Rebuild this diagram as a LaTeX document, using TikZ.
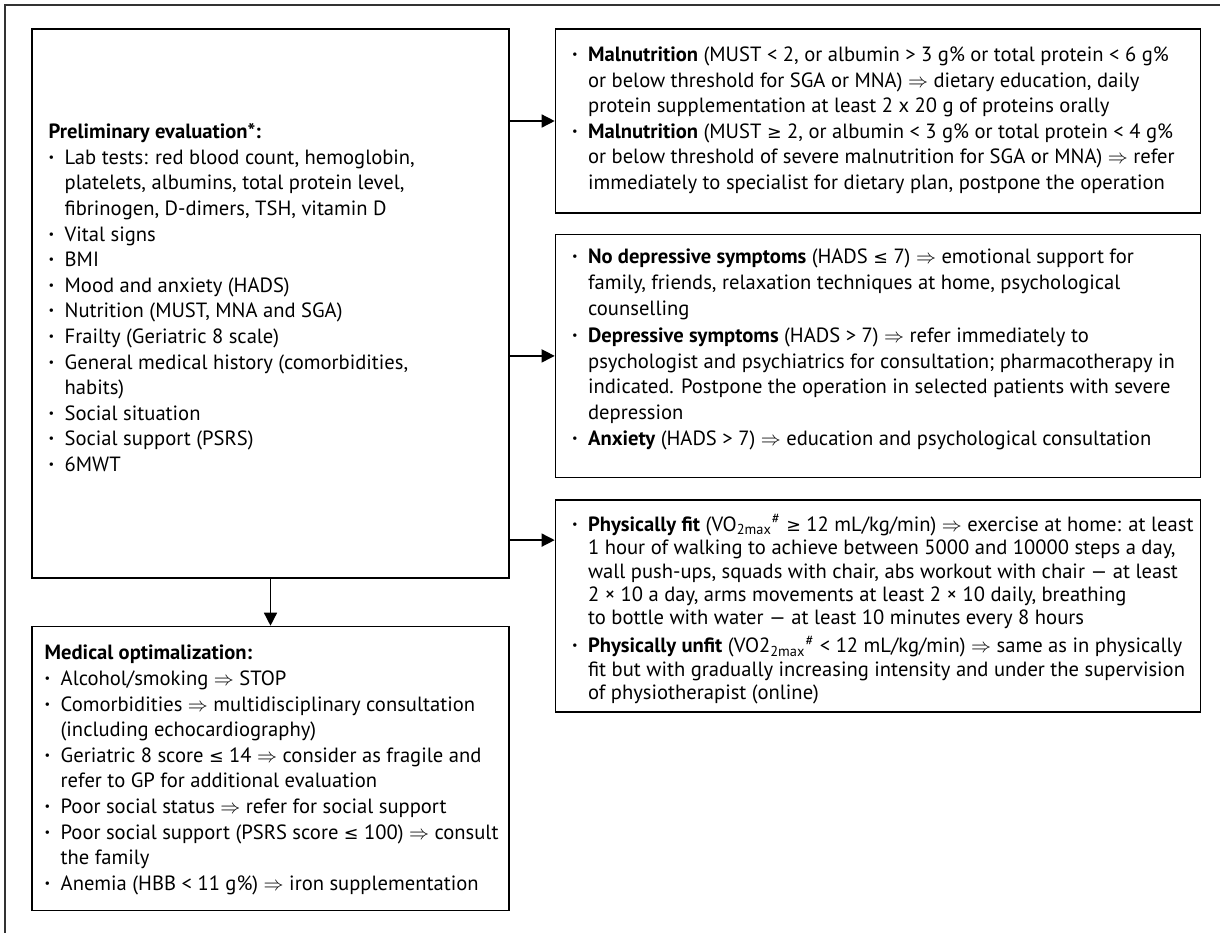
\documentclass[tikz,border=0pt]{standalone}
\usepackage{fontspec}
\setmainfont{PT Sans}
\newfontfamily\symfnt{DejaVu Sans}
\usepackage{graphicx}
\usetikzlibrary{positioning, arrows.meta}

\newcommand{\bull}{\makebox[8pt][l]{\raisebox{0.3ex}{\scalebox{0.6}{\textbullet}}}}
\newcommand{\indt}{\hspace*{8pt}}
\newcommand{\thn}{$\Rightarrow$}
\newcommand{\lte}{{\symfnt\scalebox{0.85}{≤}}}
\newcommand{\gte}{{\symfnt\scalebox{0.85}{≥}}}

\begin{document}
\begin{tikzpicture}[x=0.5pt, y=-0.5pt, font=\fontsize{10.3}{12.8}\selectfont,
        box/.style={rectangle, draw, line width=0.7pt, inner sep=0pt},
        txt/.style={anchor=north west, align=left, inner sep=0pt},
        arr/.style={-{Triangle[length=6.5pt, width=6.5pt]}, line width=0.7pt}]
    \useasboundingbox (0,0) rectangle (1220,933);
    \draw[line width=0.7pt, black!80] (1220,5) -- (5,5) -- (5,933);

    \node[box, minimum width=238.5pt, minimum height=274.5pt] (prelim) at (270.5,303.5) {};
    \node[box, minimum width=238.5pt, minimum height=142pt, below=23.5pt of prelim] (medopt) {};
    \node[box, minimum width=322.5pt, minimum height=92pt, right=22.5pt of prelim.north east,
        anchor=north west] (nutri) {};
    \node[box, minimum width=322.5pt, minimum height=121.5pt, below=10pt of nutri] (mood) {};
    \node[box, minimum width=322.5pt, minimum height=106pt, below=10.5pt of mood] (phys) {};

    \node[txt] (prelimtxt) at ([shift={(8.5pt,-47.5pt)}]prelim.north west) {%
        \textbf{Preliminary evaluation*:}\\
        \bull Lab tests: red blood count, hemoglobin,\\
        \indt platelets, albumins, total protein level,\\
        \indt fibrinogen, D-dimers, TSH, vitamin D\\
        \bull Vital signs\\
        \bull BMI\\
        \bull Mood and anxiety (HADS)\\
        \bull Nutrition (MUST, MNA and SGA)\\
        \bull Frailty (Geriatric 8 scale)\\
        \bull General medical history (comorbidities,\\
        \indt habits)\\
        \bull Social situation\\
        \bull Social support (PSRS)\\
        \bull 6MWT};
    \node[txt] (medopttxt) at ([shift={(6.5pt,-9.6pt)}]medopt.north west) {%
        \textbf{Medical optimalization:}\\
        \bull Alcohol/smoking \thn{} STOP\\
        \bull Comorbidities \thn{} multidisciplinary consultation\\
        \indt (including echocardiography)\\
        \bull Geriatric 8 score \lte{} 14 \thn{} consider as fragile and\\
        \indt refer to GP for additional evaluation\\
        \bull Poor social status \thn{} refer for social support\\
        \bull Poor social support (PSRS score \lte{} 100) \thn{} consult\\
        \indt the family\\
        \bull Anemia (HBB < 11 g\%) \thn{} iron supplementation};
    \node[txt] (nutritxt) at ([shift={(8.5pt,-9.1pt)}]nutri.north west) {%
        \bull \textbf{Malnutrition} (MUST < 2, or albumin > 3 g\% or total protein < 6 g\%\\
        \indt or below threshold for SGA or MNA) \thn{} dietary education, daily\\
        \indt protein supplementation at least 2 x 20 g of proteins orally\\
        \bull \textbf{Malnutrition} (MUST \gte{} 2, or albumin < 3 g\% or total protein < 4 g\%\\
        \indt or below threshold of severe malnutrition for SGA or MNA) \thn{} refer\\
        \indt immediately to specialist for dietary plan, postpone the operation};
    \node[txt] (moodtxt) at ([shift={(8.5pt,-7.6pt)}]mood.north west) {%
        \bull \textbf{No depressive symptoms} (HADS \lte{} 7) \thn{} emotional support for\\
        \indt family, friends, relaxation techniques at home, psychological\\
        \indt counselling\\[1pt]
        \bull \textbf{Depressive symptoms} (HADS > 7) \thn{} refer immediately to\\
        \indt psychologist and psychiatrics for consultation; pharmacotherapy in\\
        \indt indicated. Postpone the operation in selected patients with severe\\
        \indt depression\\
        \bull \textbf{Anxiety} (HADS > 7) \thn{} education and psychological consultation};
    \node[txt, font=\fontsize{10.3}{11.7}\selectfont] (phystxt) at ([shift={(8.5pt,-7.6pt)}]phys.north west) {%
        \bull \textbf{Physically fit} (VO\textsubscript{2max}\textsuperscript{\#} \gte{} 12 mL/kg/min) \thn{} exercise at home: at least\\
        \indt 1 hour of walking to achieve between 5000 and 10000 steps a day,\\
        \indt wall push-ups, squads with chair, abs workout with chair --- at least\\
        \indt 2 × 10 a day, arms movements at least 2 × 10 daily, breathing\\
        \indt to bottle with water --- at least 10 minutes every 8 hours\\[2.3pt]
        \bull \textbf{Physically unfit} (VO2\textsubscript{2max}\textsuperscript{\#} < 12 mL/kg/min) \thn{} same as in physically\\
        \indt fit but with gradually increasing intensity and under the supervision\\
        \indt of physiotherapist (online)};

    \draw[arr] (prelim.east |- nutri.west) -- (nutri.west);
    \draw[arr] (prelim.east |- mood.west) -- (mood.west);
    \coordinate (physin) at ([yshift=-20.5pt]phys.north west);
    \draw[arr] (prelim.east |- physin) -- (physin);
    \draw[arr] (prelim.south) -- (medopt.north);
\end{tikzpicture}
\end{document}
